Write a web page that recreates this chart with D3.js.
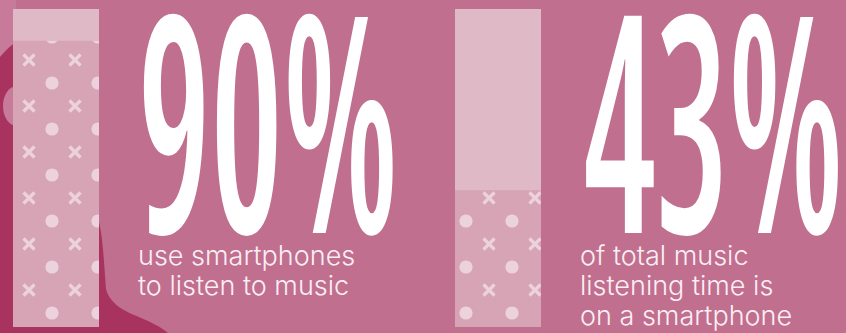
<!DOCTYPE html>
<html>
<head>
<meta charset="utf-8">
<script src="https://cdn.jsdelivr.net/npm/d3@7"></script>
<style>
  html, body { margin: 0; padding: 0; background: #c16f8f; overflow: hidden; }
  svg { display: block; }
</style>
</head>
<body>
<svg id="chart"></svg>
<script>
// Two share statistics, each shown as a filled bar plus a large percentage.
const categories = ["smartphone listeners", "smartphone listening time"];
const values = [90, 43];
const captions = [
  ["use smartphones", "to listen to music"],
  ["of total music", "listening time is", "on a smartphone"]
];

const W = 846, H = 333;
const colors = {
  bg: "#c16f8f",
  blob: "#a9335f",
  blobLight: "#c77a99",
  track: "#dfb9c6",
  fill: "#d6a4b5",
  motif: "#ecd2dc",
  big: "#ffffff",
  caption: "#fbeef3"
};

const svg = d3.select("#chart").attr("width", W).attr("height", H);

svg.append("rect").attr("width", W).attr("height", H).attr("fill", colors.bg);

// Decorative backdrop shapes behind the first bar
svg.append("path")
  .attr("d", "M0,0 L16,0 L16,42 C10,46 5,51 0,57 Z")
  .attr("fill", colors.blobLight);
svg.append("path")
  .attr("d", "M0,57 C5,51 10,46 16,42 L99,42 L99,222 C103,238 104,264 106,289 C110,304 124,311 139,317 C151,322 161,327 168,333 L0,333 Z")
  .attr("fill", colors.blob);
svg.append("ellipse")
  .attr("cx", 17).attr("cy", 106).attr("rx", 14).attr("ry", 20)
  .attr("fill", colors.blobLight);

// Scales
const x = d3.scaleBand()
  .domain(categories)
  .range([13, 541])
  .paddingInner((442 - 86) / 442)
  .paddingOuter(0);
const y = d3.scaleLinear().domain([0, 100]).range([327, 9]);

// Repeating cross / dot motif for the filled portion
const defs = svg.append("defs");
const pat = defs.append("pattern")
  .attr("id", "motif")
  .attr("patternUnits", "userSpaceOnUse")
  .attr("x", 20).attr("y", 0)
  .attr("width", 46).attr("height", 46);
pat.append("path")
  .attr("d", "M3.5,8.5 L14.5,19.5 M14.5,8.5 L3.5,19.5")
  .attr("stroke", colors.motif).attr("stroke-width", 3.2).attr("fill", "none");
pat.append("circle")
  .attr("cx", 32).attr("cy", 37).attr("r", 6.6)
  .attr("fill", colors.motif);

const bars = svg.append("g").selectAll("g")
  .data(categories.map((c, i) => ({ c, v: values[i], i })))
  .join("g");

bars.append("rect")
  .attr("x", d => x(d.c)).attr("width", x.bandwidth())
  .attr("y", y(100)).attr("height", y(0) - y(100))
  .attr("fill", colors.track);
bars.append("rect")
  .attr("x", d => x(d.c)).attr("width", x.bandwidth())
  .attr("y", d => y(d.v)).attr("height", d => y(0) - y(d.v))
  .attr("fill", colors.fill);
bars.append("rect")
  .attr("x", d => x(d.c)).attr("width", x.bandwidth())
  .attr("y", d => y(d.v)).attr("height", d => y(0) - y(d.v))
  .attr("fill", "url(#motif)");

// Large condensed percentage labels, sized from measured glyph ink
const bigFamily = "'Open Sans', 'Liberation Sans', sans-serif";
const bigWeight = 600;
const ctx = document.createElement("canvas").getContext("2d");
ctx.font = `${bigWeight} 100px ${bigFamily}`;
try { ctx.fontStretch = "condensed"; } catch (e) {}
const labelText = values.map(v => `${v}%`);
const metrics = labelText.map(t => ctx.measureText(t));
const inkTop = 12, baseline = 233, firstInkWidth = 250;
const k = (baseline - inkTop) / metrics[0].actualBoundingBoxAscent;
const fs = 100 * k;
const sx = firstInkWidth / ((metrics[0].actualBoundingBoxLeft + metrics[0].actualBoundingBoxRight) * k);

bars.append("text")
  .attr("transform", d => `translate(${x(d.c) + x.bandwidth() + 44},${baseline}) scale(${sx},1)`)
  .attr("x", d => metrics[d.i].actualBoundingBoxLeft * k)
  .attr("y", 0)
  .attr("font-family", bigFamily)
  .attr("font-weight", bigWeight)
  .attr("font-stretch", "condensed")
  .attr("font-size", fs)
  .attr("fill", colors.big)
  .text(d => labelText[d.i]);

// Captions
bars.append("text")
  .attr("font-family", "Inter, 'Noto Sans', sans-serif")
  .attr("font-weight", 300)
  .attr("font-size", 27)
  .attr("fill", colors.caption)
  .selectAll("tspan")
  .data(d => captions[d.i].map((t, j) => ({ t, j, d })))
  .join("tspan")
  .attr("x", l => x(l.d.c) + x.bandwidth() + 39)
  .attr("y", l => 265 + l.j * 30)
  .text(l => l.t);
</script>
</body>
</html>
